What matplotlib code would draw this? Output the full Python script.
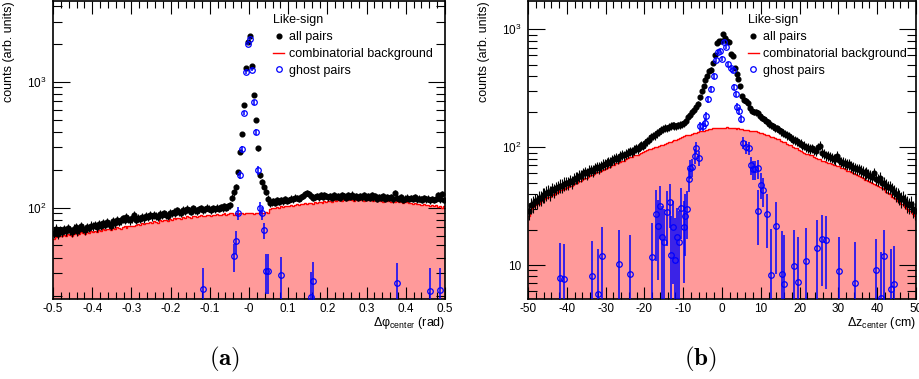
import numpy as np
import matplotlib.pyplot as plt
from matplotlib.lines import Line2D
from matplotlib.ticker import MultipleLocator, LogLocator, NullFormatter, FixedLocator, FixedFormatter

plt.rcParams['font.family'] = ['Liberation Sans', 'DejaVu Sans']
plt.rcParams['mathtext.fontset'] = 'custom'
plt.rcParams['mathtext.rm'] = 'Liberation Sans'
plt.rcParams['mathtext.it'] = 'Liberation Sans:italic'
plt.rcParams['mathtext.bf'] = 'Liberation Sans:bold'

# ---- panel (a): delta phi, 200 bins in [-0.5, 0.5]
bg_phi = [56, 58, 59, 60, 59, 61, 60, 62, 61, 60, 62, 63, 61, 62, 64, 63, 62, 64, 63, 65,
          64, 65, 64, 66, 65, 67, 66, 68, 67, 66, 69, 68, 70, 69, 68, 70, 71, 69, 71, 72,
          72, 71, 73, 74, 73, 75, 74, 76, 75, 77, 76, 78, 77, 76, 79, 78, 80, 79, 78, 81,
          80, 82, 81, 83, 82, 81, 84, 83, 85, 84, 83, 86, 85, 84, 86, 87, 85, 86, 88, 87,
          86, 88, 87, 89, 88, 87, 89, 90, 88, 89, 91, 90, 88, 90, 89, 91, 90, 89, 91, 90,
          91, 90, 89, 91, 90, 92, 91, 90, 92, 91, 98, 99, 100, 99, 101, 100, 102, 101, 103, 102,
          103, 104, 103, 105, 106, 104, 107, 106, 108, 107, 109, 108, 107, 110, 109, 111, 110, 109, 112, 111,
          112, 113, 111, 114, 113, 115, 114, 112, 116, 115, 114, 116, 115, 113, 116, 115, 114, 116, 113, 115,
          115, 114, 116, 113, 115, 112, 114, 113, 111, 114, 112, 113, 110, 112, 111, 113, 110, 112, 109, 111,
          110, 108, 109, 107, 108, 106, 107, 105, 104, 106, 104, 105, 103, 104, 102, 104, 101, 103, 100, 102]

all_phi = [63, 68, 62, 66, 64, 67, 65, 69, 66, 64, 68, 70, 65, 67, 71, 68, 66, 70, 69, 72,
           71, 73, 70, 74, 72, 75, 73, 77, 74, 72, 78, 75, 80, 77, 79, 82, 80, 84, 81, 79,
           82, 87, 80, 83, 81, 84, 82, 86, 84, 87, 85, 88, 86, 84, 89, 87, 90, 88, 86, 91,
           90, 93, 91, 95, 92, 90, 96, 94, 98, 95, 93, 99, 96, 94, 97, 99, 95, 97, 100, 98,
           96, 99, 97, 100, 98, 101, 99, 102, 100, 103, 105, 120, 132, 145, 190, 275, 385, 650, 1290, 2080,
           2290, 1340, 780, 500, 295, 180, 160, 145, 133, 118, 108, 110, 112, 109, 114, 111, 115, 112, 116, 113,
           115, 118, 116, 120, 119, 117, 121, 124, 128, 131, 129, 124, 120, 122, 124, 121, 125, 122, 126, 124,
           121, 124, 119, 125, 122, 123, 120, 126, 123, 120, 125, 122, 127, 121, 124, 119, 123, 121, 125, 120,
           123, 120, 125, 121, 124, 118, 122, 120, 123, 117, 121, 119, 122, 116, 130, 120, 117, 121, 115, 118,
           120, 117, 119, 118, 121, 116, 118, 117, 115, 119, 116, 118, 114, 117, 115, 118, 126, 116, 128, 115]

ghost_phi_x = [-0.1175, -0.0375, -0.0325, -0.0275, -0.0225, -0.0175, -0.0125, -0.0075, -0.0025,
               0.0025, 0.0075, 0.0125, 0.0175, 0.0225, 0.0275, 0.0325, 0.0375, 0.0425, 0.0475,
               0.0825, 0.1575, 0.1625, 0.3775, 0.4625, 0.4875]
ghost_phi_y = [22.4, 41, 54, 90, 182, 293, 564, 1195, 1995, 2187, 1245, 684, 400, 197, 99, 90,
               66, 31.6, 31.6, 29.2, 19.6, 26.3, 25, 21.9, 22.1]
ghost_phi_err = [11, 10, 11, 11, 14, 18, 24, 35, 45, 47, 36, 27, 21, 15, 11, 11, 10, 11, 11,
                 11, 11, 11, 11, 11, 11]

# ---- panel (b): delta z, 200 bins in [-50, 50]
bg_z = [26, 30, 31, 32, 33, 33, 35, 35, 36, 37, 38, 38, 40, 39, 41, 42, 43, 43, 44, 45,
        46, 47, 47, 49, 50, 50, 52, 52, 54, 55, 55, 57, 58, 58, 60, 61, 61, 63, 64, 65,
        66, 68, 68, 70, 71, 73, 73, 75, 77, 77, 79, 81, 82, 82, 85, 86, 86, 88, 90, 91,
        92, 94, 96, 96, 98, 100, 100, 102, 104, 104, 107, 108, 110, 110, 113, 115, 115, 118, 120, 122,
        124, 126, 128, 128, 130, 132, 132, 134, 136, 136, 138, 140, 140, 142, 142, 144, 144, 145, 145, 146,
        146, 146, 147, 145, 146, 144, 145, 143, 144, 142, 142, 141, 140, 141, 138, 138, 136, 136, 134, 132,
        131, 129, 128, 128, 125, 123, 123, 120, 118, 117, 113, 111, 110, 107, 105, 104, 101, 99, 98, 95,
        93, 91, 90, 88, 87, 85, 85, 83, 81, 80, 79, 77, 77, 75, 74, 73, 72, 71, 70, 69,
        69, 67, 66, 65, 63, 63, 61, 60, 59, 58, 57, 56, 55, 53, 53, 52, 51, 50, 49, 48,
        47, 46, 45, 44, 42, 41, 40, 38, 37, 36, 35, 34, 33, 33, 31, 30, 29, 29, 27, 26]

all_z = [29, 32, 33, 35, 35, 37, 37, 39, 39, 41, 42, 41, 44, 43, 45, 46, 47, 47, 49, 50,
         50, 52, 51, 54, 55, 55, 57, 57, 60, 61, 60, 63, 64, 63, 66, 68, 67, 69, 71, 72,
         73, 75, 74, 78, 79, 81, 80, 84, 86, 85, 88, 90, 92, 91, 95, 98, 97, 101, 104, 103,
         108, 112, 116, 122, 124, 126, 131, 135, 140, 143, 145, 144, 148, 151, 153, 152, 150, 153, 155, 156,
         160, 168, 180, 188, 198, 208, 220, 232, 265, 300, 330, 370, 405, 440, 455, 520, 610, 770, 790, 800,
         906, 840, 800, 785, 620, 595, 470, 420, 380, 330, 270, 252, 245, 235, 215, 203, 200, 197, 193, 185,
         178, 172, 168, 162, 158, 153, 150, 146, 144, 140, 136, 133, 130, 126, 124, 120, 116, 114, 112, 109,
         107, 104, 103, 100, 99, 97, 98, 94, 92, 100, 103, 89, 88, 85, 84, 83, 81, 80, 79, 84,
         78, 75, 74, 73, 71, 72, 69, 67, 66, 65, 65, 63, 62, 60, 61, 58, 57, 56, 60, 54,
         53, 55, 50, 50, 47, 46, 46, 44, 42, 40, 39, 38, 36, 37, 35, 33, 32, 33, 30, 29]

ghost_z_x = [-41.7, -40.7, -33.6, -32.0, -31.0, -26.5, -23.6, -18.1, -17.1, -16.6, -16.0, -15.5,
             -15.0, -14.1, -13.5, -13.1, -12.6, -12.0, -11.5, -11.1, -10.5, -9.9, -9.5, -8.9,
             -8.5, -8.3, -7.7, -7.0, -6.6, -6.0, -5.6, -4.9, -4.4, -4.0, -3.6, -2.7, -2.1, -1.6,
             -1.15, -0.55, -0.1, 0.55, 1.1, 1.6, 2.3, 2.9, 3.1, 3.6, 4.0, 4.5, 5.0, 5.5, 6.3,
             7.0, 7.5, 8.0, 8.6, 9.2, 9.4, 10.0, 10.6, 11.6, 12.6, 14.0, 15.6, 16.1, 18.6, 19.7,
             21.6, 24.6, 25.7, 26.7, 30.2, 34.3, 39.8, 40.9, 41.8, 43.5, 44.4]
ghost_z_y = [7.8, 7.6, 8.1, 5.7, 12, 10.3, 8.4, 11.8, 26.9, 21.4, 31.6, 17.4, 15.8, 28.4, 34.5,
             12.2, 20.9, 11.0, 17.4, 15.8, 30.7, 21.1, 26, 29.7, 54, 66, 68, 84, 99, 81, 150,
             150, 161, 183, 254, 310, 402, 550, 645, 660, 563, 781, 703, 504, 470, 450, 326, 285,
             220, 202, 174, 109, 100, 98, 70, 65, 65, 66, 28.9, 48, 43, 27, 8.2, 21.4, 8.4, 6.9,
             9.8, 7.2, 10.8, 13.9, 16.6, 16.3, 8.9, 7.0, 9.0, 5.3, 11.9, 6.3, 6.9]
ghost_z_err = [7.5, 7.5, 8, 8, 9, 9.5, 9.5, 11, 16, 14, 15, 14, 14, 14, 14, 14, 14, 14, 13, 13,
               14, 14, 14, 13, 12, 12, 12, 12, 12, 12, 14, 14, 14, 15, 16, 18, 20, 22, 25, 25,
               25, 27, 26, 22, 22, 21, 18, 17, 15, 15, 14, 12, 12, 12, 12, 12, 12, 12, 14, 12,
               12, 13, 12, 13, 11, 11, 10, 10, 10, 10, 10, 10, 8.5, 8.6, 7.5, 7.5, 8, 7.5, 7.5]

phi_ticks = [-0.5, -0.4, -0.3, -0.2, -0.1, 0.0, 0.1, 0.2, 0.3, 0.4, 0.5]
phi_ticklabels = ['-0.5', '-0.4', '-0.3', '-0.2', '-0.1', '-0', '0.1', '0.2', '0.3', '0.4', '0.5']
z_ticks = [-50, -40, -30, -20, -10, 0, 10, 20, 30, 40, 50]
z_ticklabels = ['-50', '-40', '-30', '-20', '-10', '0', '10', '20', '30', '40', '50']


def panel(ax, lo, hi, bg, allv, err_scale, gx, gy, gerr, ylim, xt, xtl, minor,
          yt, ytl, xlabel, legx):
    edges = np.linspace(lo, hi, len(bg) + 1)
    centers = 0.5 * (edges[1:] + edges[:-1])
    allv = np.array(allv, dtype=float)
    ax.set_yscale('log')
    ax.stairs(bg, edges, fill=True, color='#ff9a9a', baseline=1e-3, zorder=1)
    ax.stairs(bg, edges, color='red', lw=1.0, baseline=None, zorder=2)
    ax.errorbar(centers, allv, yerr=err_scale * np.sqrt(allv), fmt='o', color='black',
                ms=3.4, elinewidth=0.8, capsize=0, zorder=3)
    ax.errorbar(gx, gy, yerr=gerr, fmt='o', mfc='none', mec='blue', ecolor='blue',
                ms=4.0, mew=0.9, elinewidth=1.1, capsize=0, zorder=4)
    ax.set_xlim(lo, hi)
    ax.set_ylim(*ylim)
    ax.xaxis.set_major_locator(FixedLocator(xt))
    ax.xaxis.set_major_formatter(FixedFormatter(xtl))
    ax.xaxis.set_minor_locator(MultipleLocator(minor))
    ax.yaxis.set_major_locator(FixedLocator(yt))
    ax.yaxis.set_major_formatter(FixedFormatter(ytl))
    ax.yaxis.set_minor_locator(LogLocator(base=10, subs=range(2, 10)))
    ax.yaxis.set_minor_formatter(NullFormatter())
    ax.tick_params(which='both', direction='in', top=True, right=True, width=0.8,
                   labelsize=8.5, colors='black')
    ax.tick_params(axis='x', which='major', length=9, pad=3)
    ax.tick_params(axis='x', which='minor', length=5)
    ax.tick_params(axis='y', which='major', length=12, pad=5)
    ax.tick_params(axis='y', which='minor', length=6.5)
    for s in ax.spines.values():
        s.set_linewidth(1.2)
    ax.set_ylabel('counts (arb. units)', fontsize=9, loc='top')
    ax.yaxis.set_label_coords(-0.097, 1.0)
    ax.set_xlabel(xlabel, fontsize=9, loc='right')
    ax.xaxis.set_label_coords(1.0, -0.055)

    handles = [Line2D([], [], marker='o', color='black', ls='none', ms=3.4),
               Line2D([], [], color='red', lw=1.0),
               Line2D([], [], marker='o', mfc='none', mec='blue', ls='none', ms=4.0, mew=0.9)]
    ax.legend(handles, ['all pairs', 'combinatorial background', 'ghost pairs'],
              title='Like-sign', title_fontsize=9, fontsize=9, frameon=False,
              loc='upper left', bbox_to_anchor=(legx, 0.955), alignment='left',
              handlelength=0.9, handletextpad=0.35, labelspacing=0.38, borderpad=0,
              borderaxespad=0)


fig = plt.figure(figsize=(9.2, 3.79), dpi=100)
ax1 = fig.add_axes([0.0576, 0.2111, 0.4261, 0.7863])
ax2 = fig.add_axes([0.5739, 0.2111, 0.4217, 0.7863])

panel(ax1, -0.5, 0.5, bg_phi, all_phi, 0.66, ghost_phi_x, ghost_phi_y, ghost_phi_err,
      (18.8, 4370), phi_ticks, phi_ticklabels, 0.02, [100, 1000],
      [r'$10^{2}$', r'$10^{3}$'], r'$\mathrm{Δφ_{center}}$ (rad)', 0.561)
panel(ax2, -50, 50, bg_z, all_z, 0.9, ghost_z_x, ghost_z_y, ghost_z_err,
      (5.15, 1738), z_ticks, z_ticklabels, 2, [10, 100, 1000],
      ['10', r'$10^{2}$', r'$10^{3}$'], r'$\mathrm{Δz_{center}}$ (cm)', 0.566)

fig.text(225 / 920, 1 - 359 / 379, r'$\mathbf{(a)}$', math_fontfamily='cm', fontsize=18,
         ha='center', va='center')
fig.text(700 / 920, 1 - 359 / 379, r'$\mathbf{(b)}$', math_fontfamily='cm', fontsize=18,
         ha='center', va='center')

fig.savefig('out.png', dpi=100)
